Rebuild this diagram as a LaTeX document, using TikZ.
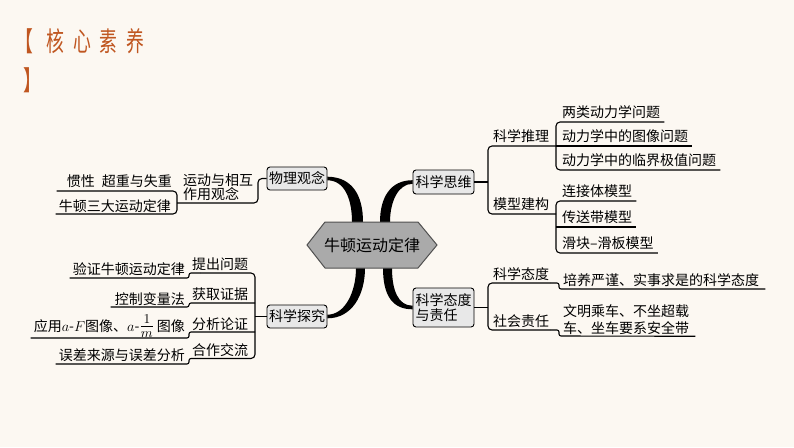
\documentclass[tikz,border=0pt]{standalone}
\usepackage{fontspec}
\usepackage{graphicx}
\usetikzlibrary{calc}
\DeclareMathSizes{14}{14}{10}{7}
\newfontfamily\cjk{Noto Sans CJK SC}
\newfontfamily\titlefont{Noto Sans CJK SC}[FakeStretch=0.66]
\definecolor{bg}{RGB}{252,248,242}
\definecolor{titlec}{RGB}{192,86,32}
\definecolor{boxfill}{RGB}{232,232,232}
\definecolor{hexfill}{RGB}{170,170,170}
\definecolor{hexline}{RGB}{80,80,80}
\tikzset{
  cat/.style={draw=black, fill=boxfill, rounded corners=3pt, line width=0.9pt,
    font=\cjk\fontsize{14}{15}\selectfont, inner sep=0pt, minimum width=60pt, minimum height=23pt},
  leaf/.style={font=\cjk\fontsize{14}{17}\selectfont, inner sep=0pt},
  ln/.style={line width=1.1pt, rounded corners=4pt},
  stepln/.style={line width=1.1pt, rounded corners=2pt},
  limb/.style={fill=black},
  titlestyle/.style={font=\titlefont\fontsize{27}{29}\selectfont, text=titlec, inner sep=0pt}
}
\begin{document}
\begin{tikzpicture}[x=1pt,y=-1pt]
\fill[bg] (0,0) rectangle (794,447);
\useasboundingbox (0,0) rectangle (794,447);

% title
\node[titlestyle, anchor=base west] (tl) at (15,51) {【};
\node[titlestyle, anchor=base west] (tt) at (46,51) {核\hspace{9pt}心\hspace{9pt}素\hspace{9pt}养};
\node[titlestyle, anchor=base west] (tr) at (23,90) {】};

% category boxes
\node[cat] (phys) at (297,178.5) {物理观念};
\node[cat, minimum width=61pt, minimum height=24pt] (think) at (443.5,182) {科学思维};
\node[cat] (explore) at (297,316.5) {科学探究};
\node[cat, minimum width=61pt, minimum height=39pt, align=left] (att) at (443.5,307.5) {科学态度\\与责任};

% thick limbs
\fill[limb] ($(phys.east)+(0,-1.8)$) .. controls (352,177) and (363,195) .. (363,222)
  -- (352,222) .. controls (352,200) and (345,180.3) .. ($(phys.east)+(0,1.8)$) -- cycle;
\fill[limb] ($(think.west)+(0,-1.8)$) .. controls (390,180.2) and (380,198) .. (380,222)
  -- (390,222) .. controls (390,202) and (398,183.8) .. ($(think.west)+(0,1.8)$) -- cycle;
\fill[limb] (356,268) -- (365,268) .. controls (365,295) and (352,318.3) .. ($(explore.east)+(0,1.8)$)
  -- ($(explore.east)+(0,-1.8)$) .. controls (345,314.7) and (356,292) .. (356,268) -- cycle;
\fill[limb] (383,268) -- (392,268) .. controls (392,290) and (398,305.7) .. ($(att.west)+(0,-1.8)$)
  -- ($(att.west)+(0,1.8)$) .. controls (392,309.3) and (383,295) .. (383,268) -- cycle;

% hub
\filldraw[fill=hexfill, draw=hexline, line width=1pt]
  (307,245) -- (325,222) -- (418,222) -- (437,245) -- (418,268) -- (325,268) -- cycle;
\node[font=\cjk\fontsize{16}{18}\selectfont, inner sep=0pt] (hub) at (372,245) {牛顿运动定律};

% ---------- right: 科学思维 ----------
\node[leaf, anchor=base west] (r1) at (493,141) {科学推理};
\node[leaf, anchor=base west] (r2) at (493,209) {模型建构};
\node[leaf, anchor=base west] (a1) at (562,117) {两类动力学问题};
\node[leaf, anchor=base west] (a2) at (562,141) {动力学中的图像问题};
\node[leaf, anchor=base west] (a3) at (562,165) {动力学中的临界极值问题};
\node[leaf, anchor=base west] (b1) at (562,196) {连接体模型};
\node[leaf, anchor=base west] (b2) at (562,222) {传送带模型};
\node[leaf, anchor=base west] (b3) at (562,248) {滑块–滑板模型};

\draw[ln] (think.east) -- (488,182);
\draw[ln] (556,146) -- (488,146) -- (488,214) -- (556,214);
\draw[ln] ($(a1.base east)+(4,5)$) -- (556,122) -- (556,170) -- ($(a3.base east)+(4,5)$);
\draw[ln] (556,146) -- ($(a2.base east)+(4,5)$);
\draw[ln] ($(b1.base east)+(4,5)$) -- (556,201) -- (556,253) -- ($(b3.base east)+(4,5)$);
\draw[ln] (556,227) -- ($(b2.base east)+(4,5)$);

% ---------- right: 科学态度与责任 ----------
\node[leaf, anchor=base west] (s1) at (493,279) {科学态度};
\node[leaf, anchor=base west] (s2) at (493,326) {社会责任};
\node[leaf, anchor=base west] (c1) at (563,285) {培养严谨、实事求是的科学态度};
\node[leaf, anchor=north west, align=left] (c2) at (563,304.4) {文明乘车、不坐超载\\车、坐车要系安全带};

\draw[ln] (att.east) -- (488,307.5);
\draw[ln] (550,283) -- (488,283) -- (488,330) -- (550,330);
\draw[stepln] (550,283) -- (559,283) -- (559,289) -- ($(c1.base east)+(6,4)$);
\draw[stepln] (550,330) -- (559,330) -- (559,336) -- ($(c2.south east)+(6,1.5)$);

% ---------- left: 物理观念 ----------
\node[leaf, anchor=north west, align=left, font=\cjk\fontsize{14}{14.5}\selectfont] (p0) at (183,173.4) {运动与相互\\作用观念};
\node[leaf, anchor=base east] (p1) at (172,186) {惯性\hspace{0.5em}超重与失重};
\node[leaf, anchor=base east] (p2) at (171,211) {牛顿三大运动定律};

\draw[ln] (phys.west) -- (258,178.5) -- (258,203) -- (177,203);
\draw[ln] ($(p1.base west)+(-10,5)$) -- (177,191) -- (177,214) -- ($(p2.base west)+(-3,3)$);

% ---------- left: 科学探究 ----------
\node[leaf, anchor=base west] (q1) at (192,269) {提出问题};
\node[leaf, anchor=base west] (q2) at (192,299) {获取证据};
\node[leaf, anchor=base west] (q3) at (192,329) {分析论证};
\node[leaf, anchor=base west] (q4) at (192,355) {合作交流};
\node[leaf, anchor=base east] (v1) at (185,274) {验证牛顿运动定律};
\node[leaf, anchor=base east] (w1) at (185,304) {控制变量法};
\node[leaf, anchor=base east] (x1) at (185,331) {应用$a$-$F$图像、$a$-\scalebox{1.35}{$\frac{1}{m}$}\,图像};
\node[leaf, anchor=base east] (y1) at (185,360) {误差来源与误差分析};

\draw[ln] (explore.west) -- (255,316.5);
\draw[ln] (200,273) -- (255,273) -- (255,358.5) -- (200,358.5);
\draw[stepln] (200,273) -- (189,273) -- (189,278) -- ($(v1.base west)+(-3,4)$);
\draw[stepln] (255,303) -- (189,303) -- (189,307) -- ($(w1.base west)+(-4,3)$);
\draw[stepln] (255,332) -- (189,332) -- (189,338) -- ($(x1.base west)+(-3,7)$);
\draw[stepln] (200,358.5) -- (189,358.5) -- (189,364) -- ($(y1.base west)+(-3,4)$);
\end{tikzpicture}
\end{document}
